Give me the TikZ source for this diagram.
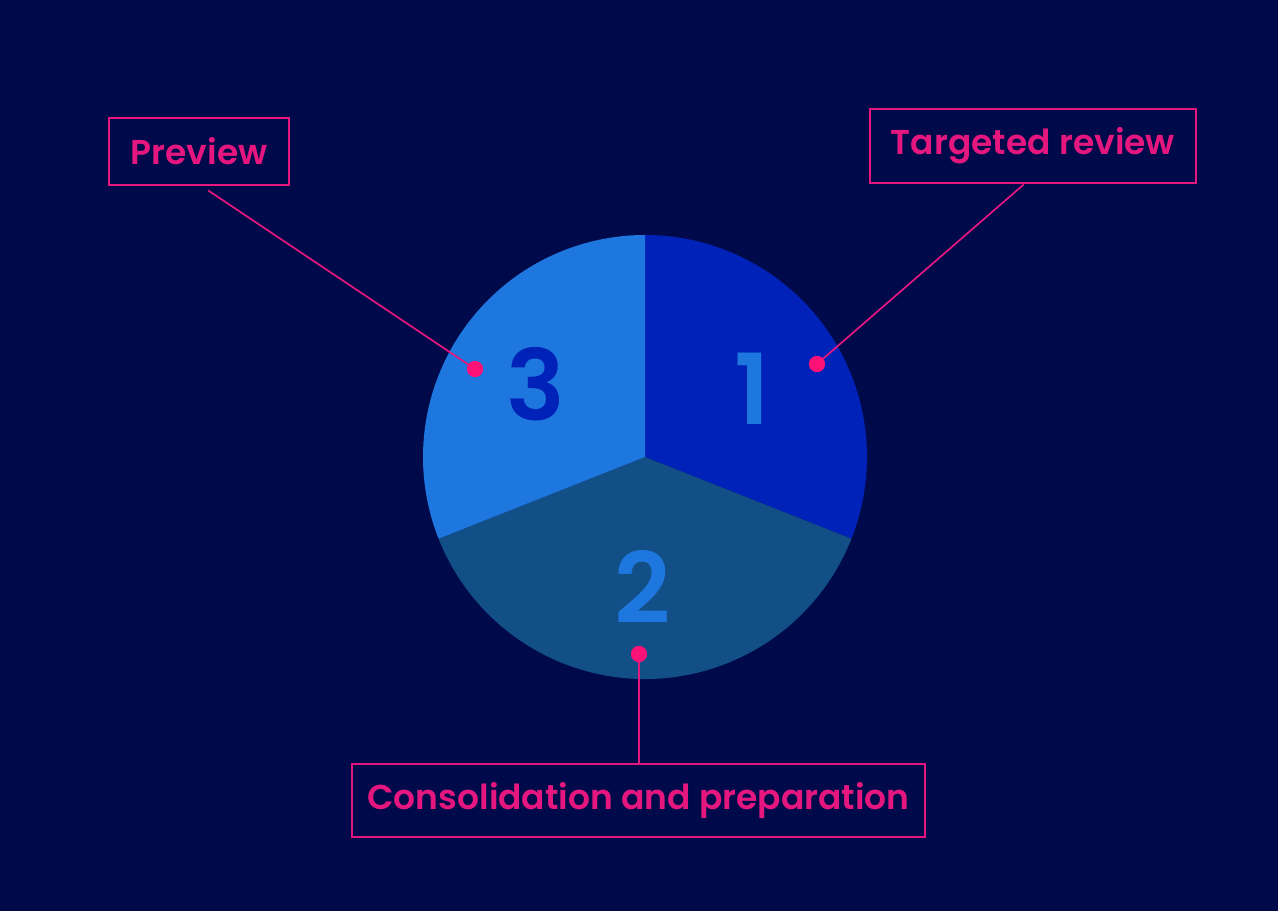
\documentclass[tikz,border=0pt]{standalone}
\usepackage{fontspec}
\setmainfont{Poppins}
\newfontfamily\semib{Poppins SemiBold}
\usetikzlibrary{calc}
\definecolor{bgnavy}{HTML}{000A4B}
\definecolor{segdeep}{HTML}{0022B8}
\definecolor{segsky}{HTML}{1E77DE}
\definecolor{segsteel}{HTML}{124F86}
\definecolor{hotpink}{HTML}{E5177F}
\definecolor{dotpink}{HTML}{FF1277}
\tikzset{
  labelbox/.style={draw=hotpink, line width=2.8pt, text=hotpink, inner sep=0pt,
    font=\semib\fontsize{34.5}{34.5}\selectfont},
  bignum/.style={font=\semib\fontsize{98}{98}\selectfont, inner sep=0pt},
  conn/.style={draw=hotpink, line width=1.7pt},
  pin/.style={circle, fill=dotpink, minimum size=16pt, inner sep=0pt}
}
\begin{document}
\begin{tikzpicture}[x=1pt,y=-1pt]
  \fill[bgnavy] (0,0) rectangle (1278,911);
  \useasboundingbox (0,0) rectangle (1278,911);
  \coordinate (c) at (645,457);
  % pie sectors (screen angles, y pointing down)
  \fill[segdeep] (c) -- ++(-90:222) arc[start angle=-90, end angle=21.6, radius=222] -- cycle;
  \fill[segsteel] (c) -- ++(21.6:222) arc[start angle=21.6, end angle=158.4, radius=222] -- cycle;
  \fill[segsky] (c) -- ++(158.4:222) arc[start angle=158.4, end angle=270, radius=222] -- cycle;
  % sector numbers
  \node[bignum, text=segsky] (n1) at (752,389) {1};
  \node[bignum, text=segsky] (n2) at (643,587) {2};
  \node[bignum, text=segdeep] (n3) at (536,384) {3};
  % labels
  \node[labelbox, minimum width=180pt, minimum height=67pt] (pv) at (199,151.5) {Preview};
  \node[labelbox, minimum width=326pt, minimum height=74pt] (tr) at (1033,146) {Targeted review};
  \node[labelbox, minimum width=573pt, minimum height=73pt] (cp) at (638.5,800.5) {Consolidation and preparation};
  % pins
  \node[pin] (d1) at (817,364) {};
  \node[pin] (d2) at (639,654) {};
  \node[pin] (d3) at (475,369) {};
  % leaders
  \draw[conn] (d3.center) -- ($(pv.south west)!0.55!(pv.south east)+(0,4)$);
  \draw[conn] (d1.center) -- ($(tr.south west)!0.472!(tr.south east)$);
  \draw[conn] (d2.center) -- (d2.center |- cp.north);
  \node[pin] at (d1) {};
  \node[pin] at (d2) {};
  \node[pin] at (d3) {};
\end{tikzpicture}
\end{document}
